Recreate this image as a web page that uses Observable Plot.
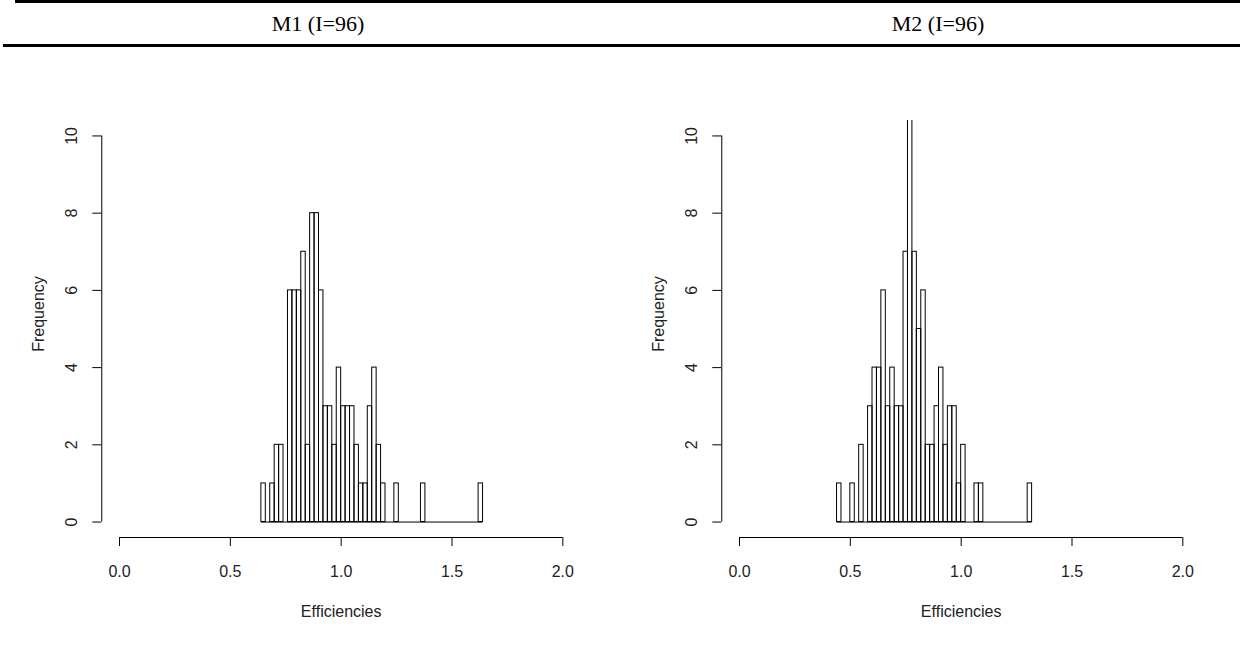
<!DOCTYPE html>
<html>
<head>
<meta charset="utf-8">
<script src="https://cdn.jsdelivr.net/npm/d3@7"></script>
<script src="https://cdn.jsdelivr.net/npm/@observablehq/plot@0.6"></script>
<style>
  html, body { margin: 0; padding: 0; background: #fff; }
  body { width: 1240px; height: 657px; position: relative; overflow: hidden; }
  .hline { position: absolute; background: #000; }
  .title { position: absolute; top: 11px; width: 620px; text-align: center;
           font-family: "Liberation Serif", "Times New Roman", serif; font-size: 22px; color: #000; }
  .panel { position: absolute; top: 50px; }
</style>
</head>
<body>
<div class="hline" style="left:15px; top:0px; width:1225px; height:3px;"></div>
<div class="hline" style="left:3px; top:44px; width:1237px; height:3px;"></div>
<div id="t1" class="title" style="left:8px;"></div>
<div id="t2" class="title" style="left:628px;"></div>
<div id="p1" class="panel" style="left:0px;"></div>
<div id="p2" class="panel" style="left:620px;"></div>
<script>
// ---- data ----
const panelTitles = ["M1 (I=96)", "M2 (I=96)"];
const binWidth = 0.02;
const m1Start = 0.64;
const m1Counts = [1,0,1,2,2,0,6,6,6,7,
                  2,8,8,6,3,3,2,4,3,3,
                  3,2,1,1,3,4,2,1,0,0,
                  1,0,0,0,0,0,1,0,0,0,
                  0,0,0,0,0,0,0,0,0,1];
const m2Start = 0.44;
const m2Counts = [1,0,0,1,0,2,0,3,4,4,
                  6,3,4,3,3,7,12,7,5,6,
                  2,2,3,4,2,3,3,1,2,0,
                  0,1,1,0,0,0,0,0,0,0,
                  0,0,0,1];
const xTicks = [0, 0.5, 1.0, 1.5, 2.0];
const yTicks = [0, 2, 4, 6, 8, 10];
const xLabel = "Efficiencies";
const yLabel = "Frequency";

function bins(start, counts) {
  return counts.map((c, i) => ({x1: start + i * binWidth, x2: start + (i + 1) * binWidth, count: c}));
}

function hist(start, counts) {
  const data = bins(start, counts);
  const lo = data[0].x1, hi = data[data.length - 1].x2;
  return Plot.plot({
    width: 620,
    height: 607,
    marginLeft: 101.27,
    marginRight: 39.93,
    marginTop: 70,
    marginBottom: 120,
    x: {domain: [-0.08, 2.08]},
    y: {domain: [-0.4, 10.4]},
    style: {fontFamily: "'Liberation Sans', Arial, sans-serif", fontSize: "16px", color: "#222", background: "white", overflow: "visible"},
    marks: [
      Plot.ruleY([0], {x1: lo, x2: hi, stroke: "#000", strokeWidth: 1}),
      Plot.rect(data.filter(d => d.count > 0), {x1: "x1", x2: "x2", y1: 0, y2: "count", fill: "none", stroke: "#000", strokeWidth: 1, clip: true}),
      // x axis
      Plot.ruleY([-0.4], {x1: xTicks[0], x2: xTicks[xTicks.length - 1], stroke: "#000", strokeWidth: 1}),
      Plot.axisX({ticks: xTicks, tickSize: 9, tickPadding: 19, tickFormat: d3.format(".1f"), label: null, stroke: "#000", fontSize: 16}),
      Plot.text([xLabel], {frameAnchor: "bottom", dy: 74, text: d => d, lineAnchor: "middle", textAnchor: "middle", fontSize: 16}),
      // y axis
      Plot.ruleX([-0.08], {y1: yTicks[0], y2: yTicks[yTicks.length - 1], stroke: "#000", strokeWidth: 1}),
      Plot.axisY({ticks: yTicks, tickSize: 9, tickFormat: () => "", label: null, stroke: "#000"}),
      Plot.text(yTicks, {frameAnchor: "left", y: d => d, text: d => String(d), rotate: -90, dx: -30, textAnchor: "middle", lineAnchor: "middle", fontSize: 16}),
      Plot.text([yLabel], {frameAnchor: "left", text: d => d, rotate: -90, dx: -63, dy: -15, textAnchor: "middle", lineAnchor: "middle", fontSize: 16})
    ]
  });
}

document.getElementById("t1").textContent = panelTitles[0];
document.getElementById("t2").textContent = panelTitles[1];
document.getElementById("p1").appendChild(hist(m1Start, m1Counts));
document.getElementById("p2").appendChild(hist(m2Start, m2Counts));
</script>
</body>
</html>
